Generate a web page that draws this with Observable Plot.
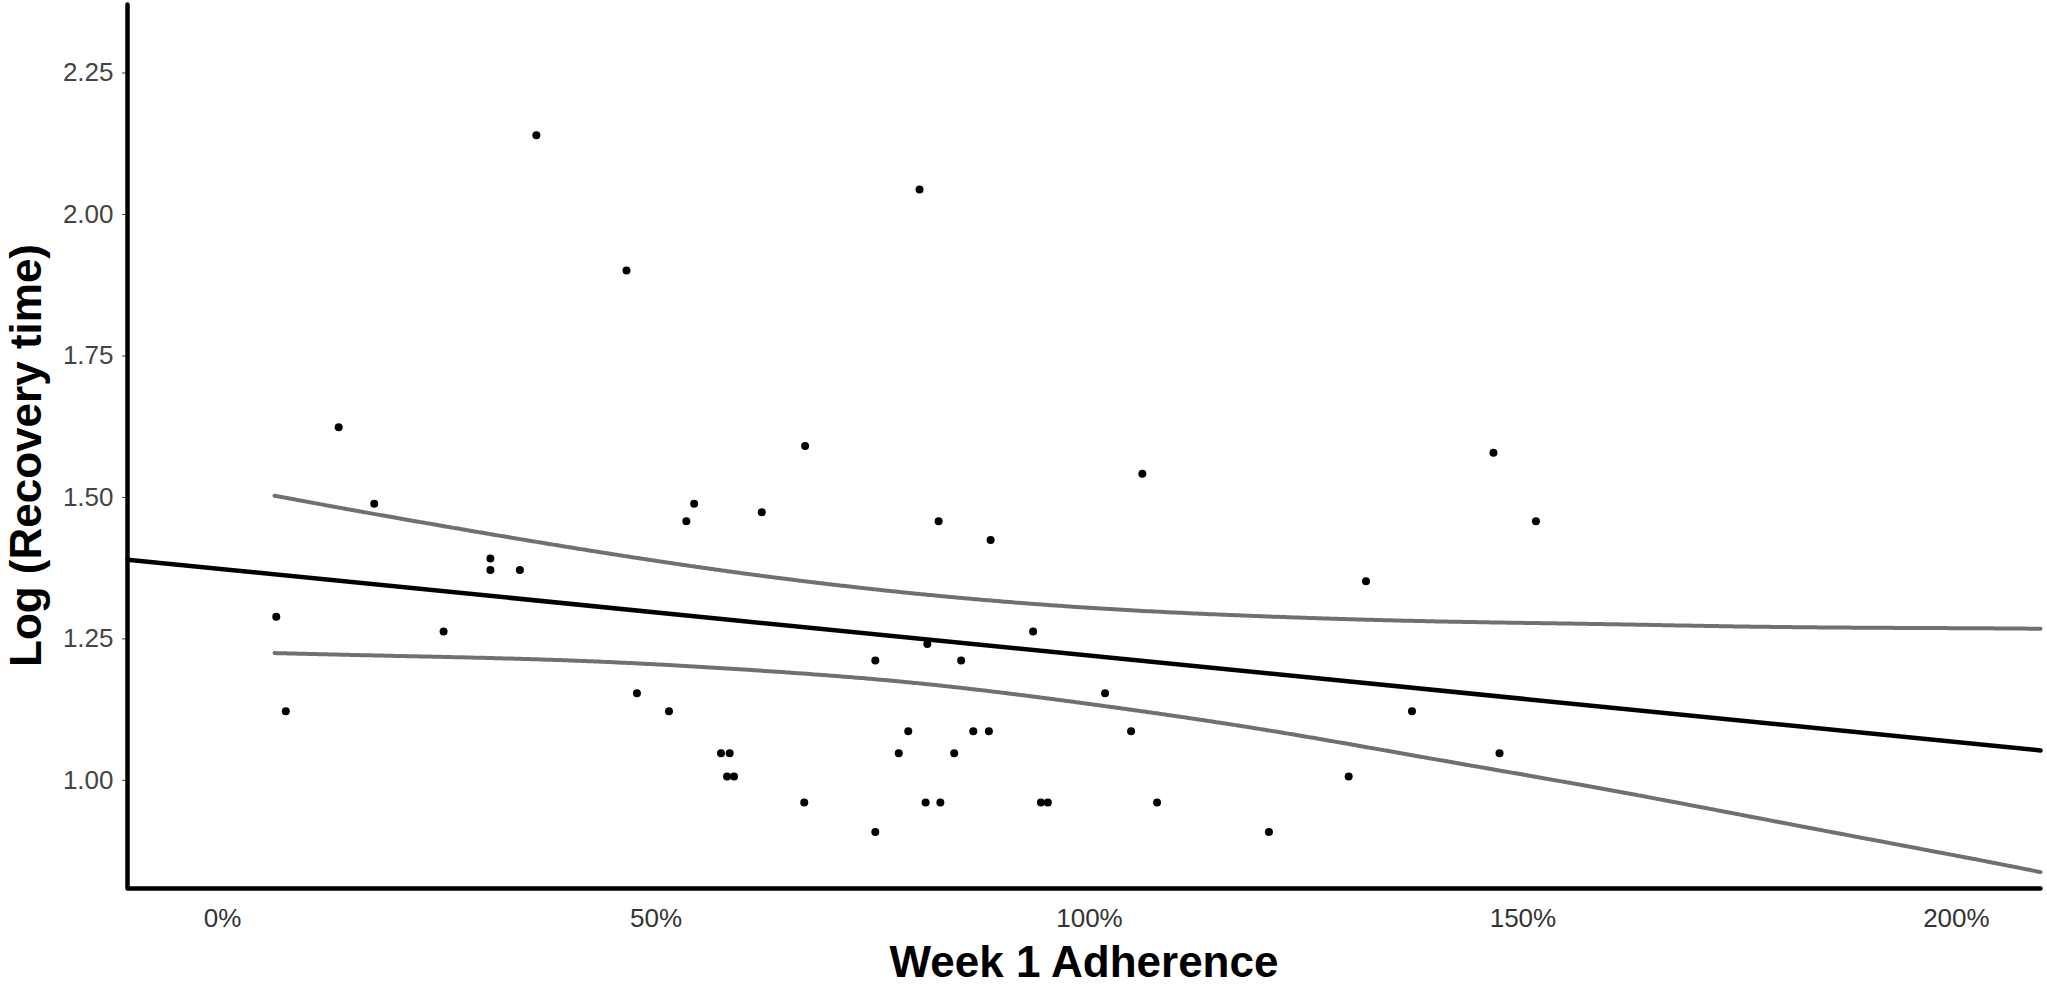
<!DOCTYPE html>
<html><head><meta charset="utf-8">
<script src="https://cdn.jsdelivr.net/npm/d3@7"></script>
<script src="https://cdn.jsdelivr.net/npm/@observablehq/plot@0.6"></script>
<style>html,body{margin:0;padding:0;background:#fff;}</style>
</head><body><div id="chart"></div>
<script>
// Scatter points: Week 1 adherence (fraction) and log recovery time
const adherence = [0.362, 0.466, 0.134, 0.804, 0.672, 1.061, 1.466, 0.175, 0.309, 0.309,
  0.343, 0.062, 0.255, 0.073, 0.478, 0.515, 0.535, 0.544, 0.622, 0.826,
  0.886, 0.935, 0.753, 0.852, 0.813, 1.018, 0.791, 0.866, 0.884, 1.048,
  0.575, 0.585, 0.582, 0.590, 0.780, 0.844, 0.671, 0.811, 0.828, 0.944,
  0.952, 1.078, 0.753, 1.207, 1.299, 1.515, 1.319, 1.372, 1.473];
const logRecovery = [2.140, 1.901, 1.624, 2.044, 1.591, 1.542, 1.579, 1.489, 1.392, 1.372,
  1.372, 1.289, 1.263, 1.122, 1.154, 1.122, 1.458, 1.489, 1.474, 1.458,
  1.425, 1.263, 1.212, 1.212, 1.241, 1.154, 1.087, 1.087, 1.087, 1.087,
  1.048, 1.048, 1.007, 1.007, 1.048, 1.048, 0.961, 0.961, 0.961, 0.961,
  0.961, 0.961, 0.909, 0.909, 1.007, 1.458, 1.352, 1.122, 1.048];

// Fitted regression line (read at both ends)
const fitX = [-0.1096, 2.097];
const fitY = [1.390, 1.053];

// Confidence band
const ciX = [0.06, 0.2, 0.4, 0.6, 0.8, 1.0, 1.2, 1.4, 1.6, 1.8, 2.0, 2.097];
const ciUpper = [1.503, 1.464, 1.412, 1.366, 1.330, 1.305, 1.290, 1.281, 1.276, 1.271, 1.269, 1.268];
const ciLower = [1.225, 1.220, 1.212, 1.196, 1.172, 1.135, 1.090, 1.037, 0.983, 0.925, 0.867, 0.838];

const xTicks = [0, 0.5, 1, 1.5, 2];
const xTickLabels = ["0%", "50%", "100%", "150%", "200%"];
const yTicks = [1.0, 1.25, 1.5, 1.75, 2.0, 2.25];
const yTickLabels = ["1.00", "1.25", "1.50", "1.75", "2.00", "2.25"];
const xLabel = "Week 1 Adherence";
const yLabel = "Log (Recovery time)";
const xDomain = [-0.1096, 2.097];
const yDomain = [0.809, 2.371];

const points = adherence.map((x, i) => ({x, y: logRecovery[i]}));
const fit = fitX.map((x, i) => ({x, y: fitY[i]}));
const ci = ciX.map((x, i) => ({x, upper: ciUpper[i], lower: ciLower[i]}));
const frameLine = [
  {x: xDomain[0], y: yDomain[1]},
  {x: xDomain[0], y: yDomain[0]},
  {x: xDomain[1], y: yDomain[0]}
];

const chart = Plot.plot({
  width: 2047,
  height: 997,
  marginLeft: 127,
  marginRight: 7,
  marginTop: 4,
  marginBottom: 109,
  style: {fontFamily: "'Liberation Sans', Arial, sans-serif", background: "#fff", color: "#000"},
  x: {domain: xDomain},
  y: {domain: yDomain},
  marks: [
    Plot.axisX({ticks: xTicks, tickFormat: d => xTickLabels[xTicks.indexOf(d)], tickSize: 0, tickPadding: 20, fontSize: 26, label: null, color: "#333"}),
    Plot.axisY({ticks: yTicks, tickFormat: d => yTickLabels[yTicks.indexOf(d)], tickSize: 5, tickPadding: 9, fontSize: 26, label: null, color: "#444"}),
    Plot.line(ci, {x: "x", y: "upper", curve: "natural", stroke: "#707070", strokeWidth: 4, strokeDasharray: "3,1.2"}),
    Plot.line(ci, {x: "x", y: "lower", curve: "natural", stroke: "#707070", strokeWidth: 4, strokeDasharray: "3,1.2"}),
    Plot.line(fit, {x: "x", y: "y", stroke: "#000", strokeWidth: 4.5}),
    Plot.dot(points, {x: "x", y: "y", r: 4, fill: "#000", stroke: null}),
    Plot.line(frameLine, {x: "x", y: "y", stroke: "#000", strokeWidth: 4.5, strokeLinejoin: "round", strokeLinecap: "round"}),
    Plot.text([xLabel], {text: d => d, frameAnchor: "bottom", dy: 88, fontSize: 44, fontWeight: "bold", fill: "#000"}),
    Plot.text([yLabel], {text: d => d, frameAnchor: "left", textAnchor: "middle", rotate: -90, dx: -101, dy: 9, fontSize: 44, fontWeight: "bold", fill: "#000"})
  ]
});
document.getElementById("chart").append(chart);
</script>
</body></html>
